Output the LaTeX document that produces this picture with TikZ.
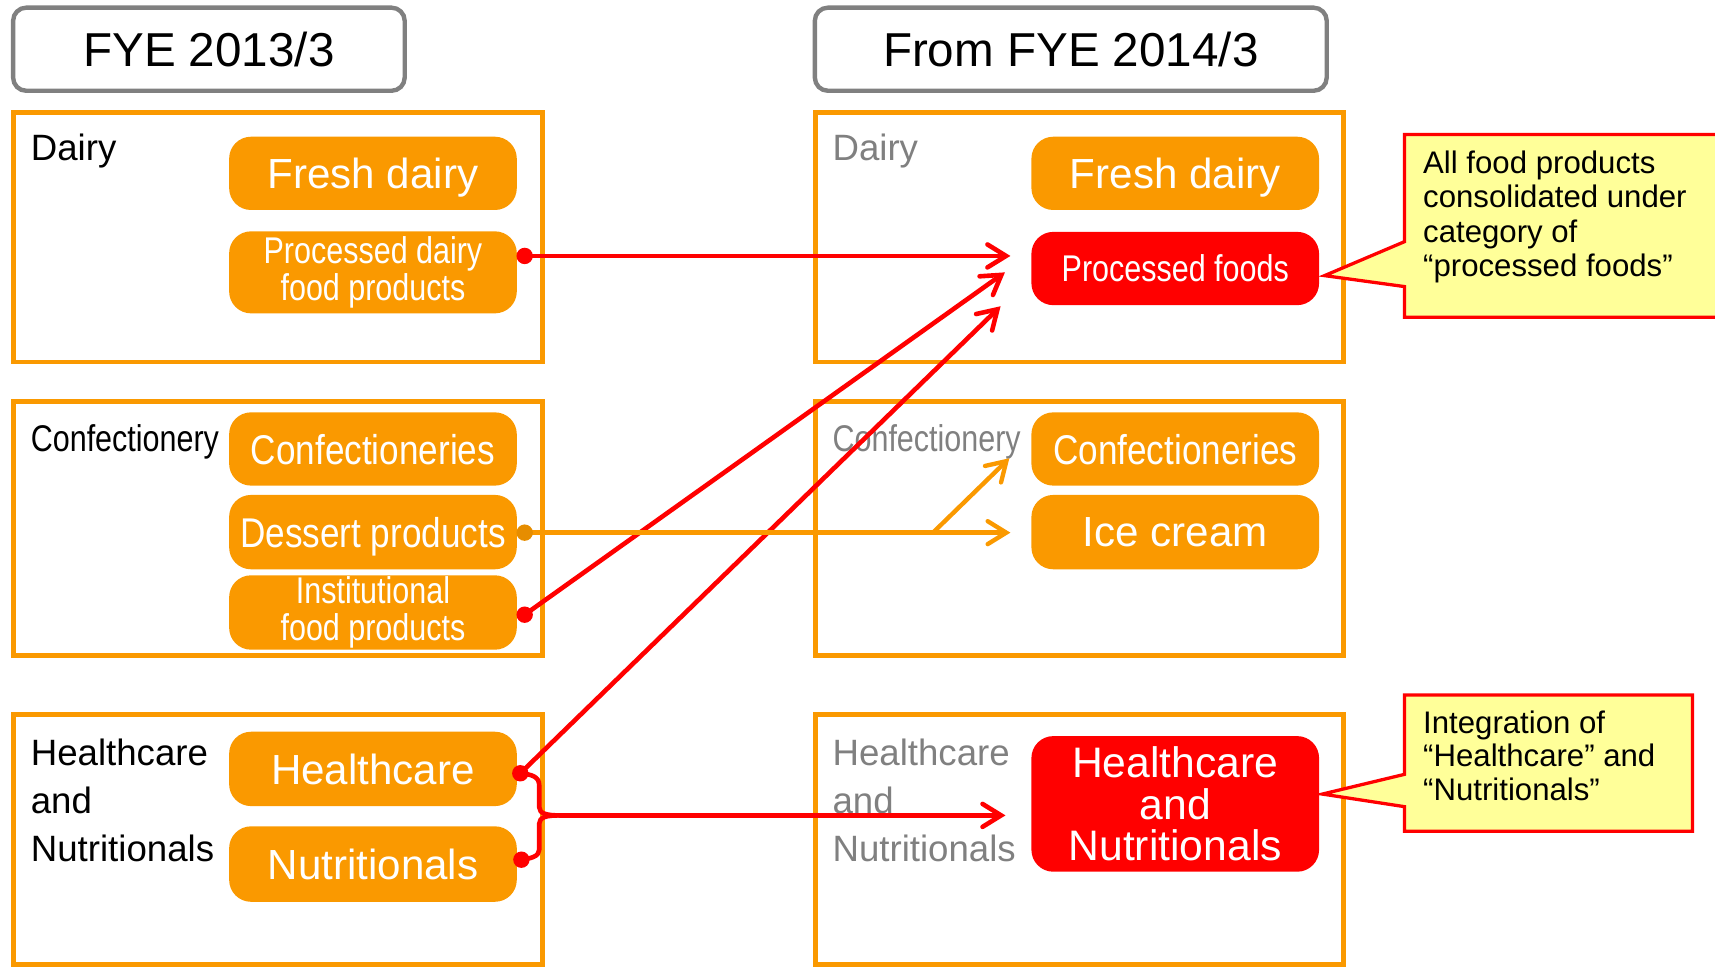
\documentclass[tikz,border=0pt]{standalone}
\usepackage{fontspec}
\setmainfont{Liberation Sans}
\newfontfamily\narrowfont{Liberation Sans}[FakeStretch=0.82]
\newfontfamily\narrowwide{Liberation Sans}[FakeStretch=0.845]
\usetikzlibrary{arrows.meta}

\definecolor{mporange}{RGB}{250,153,0}
\definecolor{mpred}{RGB}{255,0,0}
\definecolor{mpgray}{RGB}{128,128,128}
\definecolor{mpyellow}{RGB}{255,255,153}

\newcommand\fsz[2]{\fontsize{#1}{#2}\selectfont}

\begin{document}
\begin{tikzpicture}[x=1pt,y=-1pt,
  titlebox/.style={draw=mpgray, line width=4pt, rounded corners=12pt, fill=white,
    minimum height=76pt, inner sep=0pt, text depth=0pt, font=\fsz{43.5}{50}},
  grp/.style={draw=mporange, line width=4.5pt, inner sep=0pt, outer sep=0pt},
  pill/.style={fill=mporange, text=white, rounded corners=20pt, minimum width=263pt,
    inner sep=0pt, align=center},
  oneline/.style={text depth=0pt},
  redpill/.style={pill, fill=mpred},
  big/.style={oneline, font=\fsz{38.5}{38}},
  nar/.style={font=\narrowfont\fsz{34}{34}},
  narbig/.style={oneline, font=\narrowwide\fsz{38}{38}},
  lab/.style={inner sep=0pt, align=left, anchor=base west, font=\fsz{33.5}{44.3}},
  narlab/.style={inner sep=0pt, anchor=base west, font=\narrowfont\fsz{34}{34}},
  faded/.style={text=mpgray},
  redline/.style={draw=mpred, line width=4.2pt, line cap=round, line join=round},
  orangeline/.style={draw=mporange, line width=4pt, line cap=round, line join=round},
  tip/.style={-{Straight Barb[length=17pt,width=21pt,line cap=round]}},
  dot/.style={circle, inner sep=0pt, minimum size=15pt},
  callout/.style={draw=mpred, fill=mpyellow, line width=3pt, line join=miter},
  callouttext/.style={inner sep=0pt, align=left, anchor=base west}
]
\useasboundingbox (0,0) rectangle (1568,885);
\clip (0,0) rectangle (1568,885);

% period headings
\node[titlebox, minimum width=358pt] (titleL) at (191,45) {FYE 2013/3};
\node[titlebox, minimum width=468pt] (titleR) at (979,45) {From FYE 2014/3};

% segment frames
\node[grp, minimum width=484pt, minimum height=228.5pt] (dairyL) at (254,216.75) {};
\node[grp, minimum width=484pt, minimum height=232.8pt] (confL) at (254,483.2) {};
\node[grp, minimum width=484pt, minimum height=228.2pt] (healthL) at (254,767.4) {};
\node[grp, minimum width=482.3pt, minimum height=228.5pt] (dairyR) at (986.85,216.75) {};
\node[grp, minimum width=482.3pt, minimum height=232.8pt] (confR) at (986.85,483.2) {};
\node[grp, minimum width=482.3pt, minimum height=228.2pt] (healthR) at (986.85,767.4) {};

% segment names (multi-line names are placed by their last baseline)
\node[lab] (dairyLab) at (28,146.5) {Dairy};
\node[narlab] (confLab) at (28,413) {Confectionery};
\node[lab] (healthLab) at (28,788.1) {Healthcare\\and\\Nutritionals};
\node[lab, faded] (dairyLabR) at (761,146.5) {Dairy};
\node[narlab, faded] (confLabR) at (761,413) {Confectionery};
\node[lab, faded] (healthLabR) at (761,788.1) {Healthcare\\and\\Nutritionals};

% business categories, FYE 2013/3
\node[pill, big, minimum height=67pt] (freshL) at (341,158.5) {Fresh dairy};
\node[pill, nar, minimum height=75pt] (procL) at (341,249) {Processed dairy\\food products};
\node[pill, narbig, minimum height=67pt] (confecL) at (341,410.5) {Confectioneries};
\node[pill, narbig, minimum height=68pt] (dessertL) at (341,486.5) {Dessert products};
\node[pill, nar, minimum height=68pt] (instL) at (341,560) {Institutional\\food products};
\node[pill, big, minimum height=68pt] (hcL) at (341,703) {Healthcare};
\node[pill, big, minimum height=69pt] (nutL) at (341,790) {Nutritionals};

% business categories, from FYE 2014/3
\node[pill, big, minimum height=67pt] (freshR) at (1074.5,158.5) {Fresh dairy};
\node[redpill, nar, oneline, minimum height=67pt] (procR) at (1074.5,245.5) {Processed foods};
\node[pill, narbig, minimum height=67pt] (confecR) at (1074.5,410.5) {Confectioneries};
\node[pill, big, minimum height=68pt] (iceR) at (1074.5,486.5) {Ice cream};
\node[redpill, font=\fsz{39}{38}, minimum height=124pt] (hnR) at (1074.5,735) {Healthcare\\and\\Nutritionals};

% connector end points
\coordinate (procDot) at ([shift={(7,-15)}]procL.east);
\coordinate (instDot) at ([shift={(7,2)}]instL.east);
\coordinate (dessertDot) at ([shift={(7,0.5)}]dessertL.east);
\coordinate (hcDot) at ([shift={(3,4)}]hcL.east);
\coordinate (nutDot) at ([shift={(4,-4)}]nutL.east);
\coordinate (braceTip) at (512,745.5);
\coordinate (fork) at (853,487);

% moves into processed foods
\draw[redline, tip] (procDot) -- ([shift={(-19,-11.5)}]procR.west);
\draw[redline, tip] (instDot) -- ([shift={(-24,3.5)}]procR.west);
\draw[redline, tip] (hcDot) -- ([shift={(-28,34.5)}]procR.west);

% healthcare and nutritionals merged
\draw[redline] (hcDot) .. controls (486,708) and (493,710) .. (493,718) -- (493,738)
  .. controls (493,744) and (500,745.5) .. (braceTip);
\draw[redline] (braceTip) .. controls (500,745.5) and (493,747) .. (493,753) -- (493,777)
  .. controls (493,783) and (485,785) .. (nutDot);
\draw[redline, tip] (braceTip) -- ([shift={(-23.5,10.5)}]hnR.west);

% dessert products split
\draw[orangeline, tip] (dessertDot) -- ([shift={(-19,0.5)}]iceR.west);
\draw[orangeline, tip] (fork) -- ([shift={(-20,8.5)}]confecR.west);

\node[dot, fill=mpred] at (procDot) {};
\node[dot, fill=mpred] at (instDot) {};
\node[dot, fill=mpred] at (hcDot) {};
\node[dot, fill=mpred] at (nutDot) {};
\node[dot, fill=mporange!92!black] at (dessertDot) {};

% explanatory callouts (text placed by its last baseline)
\draw[callout] (1284,123) -- (1580,123) -- (1580,290) -- (1284,290) -- (1284,262)
  -- (1211,252) -- (1284,221) -- cycle;
\node[callouttext, font=\fsz{28.5}{31.5}] (noteFoods) at (1301,253)
  {All food products\\consolidated under\\category of\\“processed foods”};
\draw[callout] (1284,635.5) -- (1547.5,635.5) -- (1547.5,760) -- (1284,760) -- (1284,737.5)
  -- (1209,726) -- (1284,708) -- cycle;
\node[callouttext, font=\fsz{28.5}{30.5}] (noteHealth) at (1301,731.5)
  {Integration of\\“Healthcare” and\\“Nutritionals”};
\end{tikzpicture}
\end{document}
